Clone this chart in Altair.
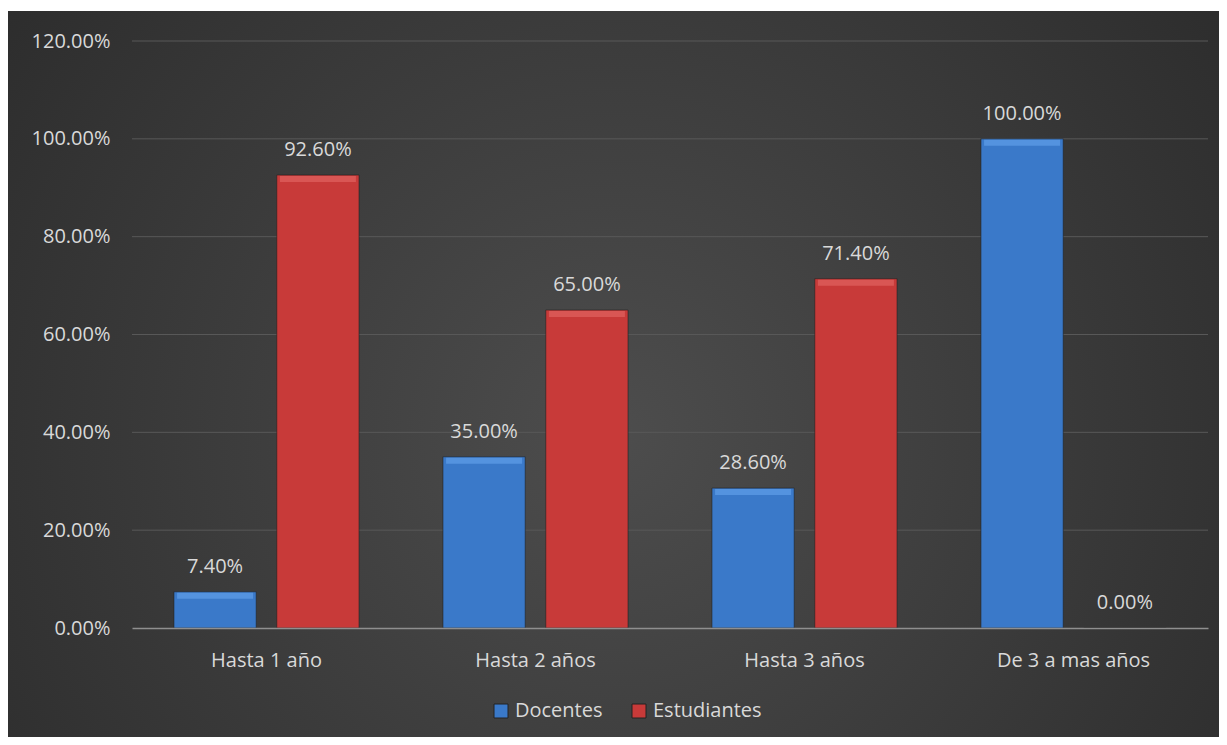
import altair as alt
import pandas as pd

categories = ["Hasta 1 año", "Hasta 2 años", "Hasta 3 años", "De 3 a mas años"]
series = ["Docentes", "Estudiantes"]
docentes = [0.074, 0.35, 0.286, 1.0]
estudiantes = [0.926, 0.65, 0.714, 0.0]
y_ticks = [0.2, 0.4, 0.6, 0.8, 1.0, 1.2]

colors = ["#3a79c9", "#c83a39"]
highlight = ["#5e9ce6", "#df605d"]

rows = []
for i, c in enumerate(categories):
    rows.append({"cat": c, "serie": series[0], "value": docentes[i]})
    rows.append({"cat": c, "serie": series[1], "value": estudiantes[i]})
df = pd.DataFrame(rows)
grid_df = pd.DataFrame({"value": y_ticks})

FONT = "Open Sans"
LABEL = "#d9d9d9"

x_enc = alt.X(
    "cat:N", sort=categories,
    scale=alt.Scale(paddingInner=0.312, paddingOuter=0.156),
    axis=alt.Axis(title=None, labelAngle=0, ticks=False, labelPadding=22,
                  domainColor="#8f8f8f", domainWidth=1.6, grid=False, zindex=1),
)
xoff = alt.XOffset("serie:N", sort=series, scale=alt.Scale(paddingInner=0.2, paddingOuter=0))
y_enc = alt.Y(
    "value:Q", scale=alt.Scale(domain=[0, 1.2], nice=False),
    axis=alt.Axis(title=None, values=[0] + y_ticks, format=".2%", ticks=False, domain=False,
                  labelPadding=22, grid=False, zindex=1),
)

bg = alt.Chart(pd.DataFrame({"a": [0]})).mark_rect(
    color={"gradient": "radial", "x1": 0.5, "y1": 0.55, "r1": 0,
           "x2": 0.5, "y2": 0.55, "r2": 0.75,
           "stops": [{"offset": 0, "color": "#4d4d4d"}, {"offset": 1, "color": "#262626"}]}
).encode(x=alt.value(-124), x2=alt.value(1087), y=alt.value(-30), y2=alt.value(696))

grid = alt.Chart(grid_df).mark_rule(color="#585858", strokeWidth=1).encode(y=y_enc)

bars = alt.Chart(df).mark_bar(stroke="#222222", strokeWidth=1, strokeOpacity=0.6).encode(
    x=x_enc, xOffset=xoff, y=y_enc,
    color=alt.Color("serie:N", sort=series,
                    scale=alt.Scale(domain=series, range=colors),
                    legend=alt.Legend(title=None)),
)

tick_layers = []
for s, hc in zip(series, highlight):
    tick_layers.append(
        alt.Chart(df).transform_filter(
            (alt.datum.serie == s) & (alt.datum.value > 0)
        ).mark_tick(color=hc, thickness=6, size=76, yOffset=4, opacity=0.75).encode(
            x=x_enc, xOffset=xoff, y=y_enc)
    )

labels = alt.Chart(df).mark_text(
    font=FONT, fontSize=20, color=LABEL, baseline="alphabetic", dy=-19
).encode(
    x=x_enc, xOffset=xoff, y=y_enc,
    text=alt.Text("value:Q", format=".2%"),
)

chart = alt.layer(bg, grid, bars, *tick_layers, labels).properties(
    width=1076, height=587,
    autosize=alt.AutoSizeParams(type="none"),
    padding={"left": 124, "top": 33, "right": 11, "bottom": 109},
    background="white",
).configure_view(stroke=None).configure_axis(
    labelFont=FONT, labelFontSize=20, labelColor=LABEL,
).configure_legend(
    orient="none", legendX=359, legendY=660, direction="horizontal",
    symbolType="square", symbolSize=196, symbolStrokeWidth=1,
    labelFont=FONT, labelFontSize=20, labelColor=LABEL,
    labelOffset=4, columnPadding=26, zindex=1,
)

chart.save("out.html", embed_options={"renderer": "svg", "actions": False})
